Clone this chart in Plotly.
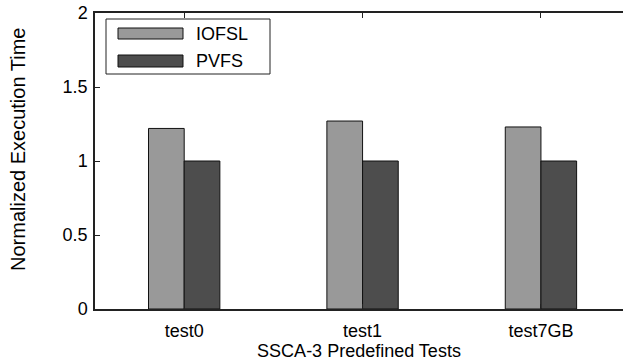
import plotly.graph_objects as go

categories = ["test0", "test1", "test7GB"]
iofsl = [1.22, 1.27, 1.23]
pvfs = [1.0, 1.0, 1.0]
y_ticks = [0, 0.5, 1, 1.5, 2]
y_tick_labels = ["0", "0.5", "1", "1.5", "2"]
series_names = ["IOFSL", "PVFS"]
series_colors = ["#999999", "#4d4d4d"]
x_title = "SSCA-3 Predefined Tests"
y_title = "Normalized Execution Time"

W, H = 623, 364
L, R, T, B = 95, 0, 13, 55
pw, ph = W - L - R, H - T - B

def px(x):  # window pixel -> paper
    return (x - L) / pw

def py(y):
    return (H - B - y) / ph

xpos = list(range(len(categories)))
FONT = "Liberation Sans, Arial, Helvetica, sans-serif"
FS = 18

fig = go.Figure()
fig.add_trace(go.Bar(x=xpos, y=iofsl, name=series_names[0], width=0.2, offset=-0.2,
                     marker=dict(color=series_colors[0], line=dict(color="#111", width=1)),
                     showlegend=False))
fig.add_trace(go.Bar(x=xpos, y=pvfs, name=series_names[1], width=0.2, offset=0.0,
                     marker=dict(color=series_colors[1], line=dict(color="#111", width=1)),
                     showlegend=False))

# manual legend
shapes = [dict(type="rect", xref="paper", yref="paper", x0=px(106), x1=px(270), y0=py(74), y1=py(19),
               line=dict(color="#222", width=1), fillcolor="white", layer="above")]
annotations = []
sw = [(28, 39), (55, 67)]
for i, name in enumerate(series_names):
    y0, y1 = sw[i]
    shapes.append(dict(type="rect", xref="paper", yref="paper", x0=px(118), x1=px(183), y0=py(y1), y1=py(y0),
                       line=dict(color="#111", width=1), fillcolor=series_colors[i], layer="above"))
    annotations.append(dict(xref="paper", yref="paper", x=px(194), y=py((y0 + y1) / 2), text=name,
                            showarrow=False, xanchor="left", yanchor="middle",
                            font=dict(size=FS, color="black", family=FONT)))

# y-axis title (placed as in the reference, slightly above the plot's centre)
annotations.append(dict(xref="paper", yref="paper", x=px(18), y=py(150), text=y_title, textangle=-90,
                        showarrow=False, xanchor="center", yanchor="middle",
                        font=dict(size=20, color="black", family=FONT)))

fig.update_layout(
    width=W, height=H,
    margin=dict(l=L, r=R, t=T, b=B, autoexpand=False),
    paper_bgcolor="white", plot_bgcolor="white",
    font=dict(family=FONT, size=FS, color="black"),
    shapes=shapes, annotations=annotations,
    showlegend=False,
    xaxis=dict(range=[-0.5, 2.46], tickmode="array", tickvals=xpos, ticktext=categories,
               ticks="inside", ticklen=5, tickcolor="#222", showline=True, linecolor="#222", linewidth=1.5,
               mirror="ticks", showgrid=False, zeroline=False, ticklabelstandoff=5,
               title=dict(text=x_title, standoff=0, font=dict(size=FS))),
    yaxis=dict(range=[0, 2], tickmode="array", tickvals=y_ticks, ticktext=y_tick_labels,
               ticks="inside", ticklen=5, tickcolor="#222", showline=True, linecolor="#222", linewidth=1.5,
               mirror=False, showgrid=False, zeroline=False, ticklabelstandoff=2,
               ticklabeloverflow="allow"),
)

# remove the page's default body margin so the figure sits at the window's top-left corner
fig.write_html("out.html", config={"displayModeBar": False},
               post_script="document.body.style.margin='0';")
